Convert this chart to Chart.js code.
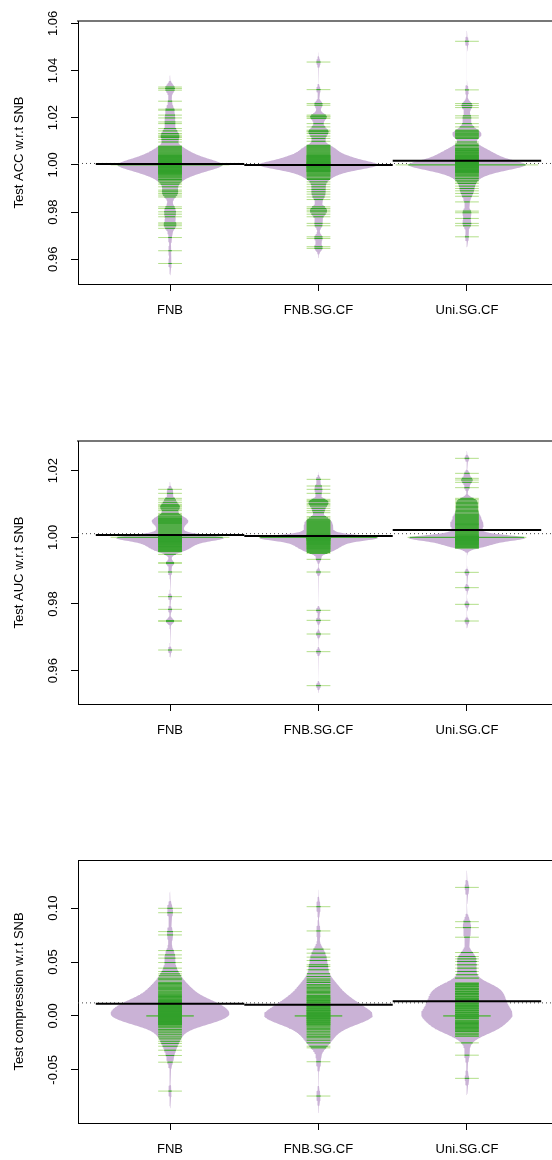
<!DOCTYPE html>
<html>
<head>
<meta charset="utf-8">
<script src="https://cdn.jsdelivr.net/npm/chart.js@4.4.0/dist/chart.umd.min.js"></script>
<style>
  body { margin: 0; width: 552px; height: 1160px; overflow: hidden; background: #fff; position: relative; }
  .panel { position: absolute; left: 0; width: 559px; height: 330px; }
</style>
</head>
<body>
<div class="panel" style="top:0px"><canvas id="accChart" width="559" height="330"></canvas></div>
<div class="panel" style="top:420px"><canvas id="aucChart" width="559" height="330"></canvas></div>
<div class="panel" style="top:839px"><canvas id="compChart" width="559" height="330"></canvas></div>
<script>
// bean categories
var methods = ["FNB", "FNB.SG.CF", "Uni.SG.CF"];
var xRange = [0.38, 3.62];

// ---- Test ACC w.r.t SNB (one observation per fold) ----
var accFNB = [1.0330, 1.0324, 1.0317, 1.0270, 1.0236, 1.0232, 1.0211, 1.0199, 1.0182, 1.0175, 1.0154, 1.0144, 1.0133, 1.0126, 1.0121, 1.0116, 1.0108, 1.0097,
  1.0079, 1.0075, 1.0071, 1.0067, 1.0063, 1.0059, 1.0055, 1.0051, 1.0047, 1.0043,
  1.0040, 1.0038, 1.0036, 1.0034, 1.0032, 1.0030, 1.0028, 1.0026, 1.0024, 1.0022, 1.0020, 1.0018, 1.0016,
  1.0014, 1.0012, 1.0011, 1.0009, 1.0008, 1.0006, 1.0005, 1.0003, 1.0002, 1.0001,
  1.0000, 1.0000, 1.0000, 1.0000, 1.0000,
  0.9999, 0.9998, 0.9997, 0.9995, 0.9994, 0.9992, 0.9991, 0.9989, 0.9988, 0.9986,
  0.9984, 0.9982, 0.9980, 0.9978, 0.9976, 0.9974, 0.9972, 0.9970, 0.9968, 0.9966, 0.9964, 0.9962, 0.9960,
  0.9956, 0.9952, 0.9948, 0.9944,
  0.9938, 0.9932, 0.9924, 0.9918, 0.9907, 0.9893, 0.9886, 0.9879, 0.9872, 0.9864, 0.9822, 0.9815, 0.9801, 0.9791, 0.9780, 0.9754, 0.9749, 0.9742, 0.9731, 0.9692, 0.9636, 0.9582];
var accFNBSGCF = [1.0436, 1.0319, 1.0260, 1.0253, 1.0211, 1.0206, 1.0203, 1.0197, 1.0175, 1.0161, 1.0147, 1.0143, 1.0140, 1.0133, 1.0122, 1.0112, 1.0100,
  1.0083, 1.0079, 1.0075, 1.0071, 1.0067, 1.0063, 1.0059, 1.0055, 1.0051, 1.0047, 1.0043,
  1.0040, 1.0038, 1.0036, 1.0034, 1.0032, 1.0030, 1.0028, 1.0026, 1.0024, 1.0022, 1.0020, 1.0018, 1.0016,
  1.0014, 1.0012, 1.0011, 1.0009, 1.0008, 1.0006, 1.0005, 1.0003, 1.0002, 1.0001,
  1.0000, 1.0000, 1.0000, 1.0000, 1.0000, 1.0000,
  0.9999, 0.9998, 0.9997, 0.9995, 0.9994, 0.9992, 0.9991, 0.9989, 0.9988, 0.9986,
  0.9984, 0.9982, 0.9980, 0.9978, 0.9976, 0.9974, 0.9972, 0.9970,
  0.9966, 0.9962, 0.9958, 0.9954,
  0.9949, 0.9943, 0.9938, 0.9928, 0.9918, 0.9907, 0.9896, 0.9886, 0.9876, 0.9864, 0.9853, 0.9822, 0.9815, 0.9808, 0.9801, 0.9791, 0.9780, 0.9752, 0.9742, 0.9695, 0.9688, 0.9653, 0.9646];
var accUniSGCF = [1.0524, 1.0318, 1.0260, 1.0252, 1.0243, 1.0208, 1.0199, 1.0175, 1.0161, 1.0147, 1.0143, 1.0139, 1.0134, 1.0130, 1.0126, 1.0122, 1.0117, 1.0112, 1.0097, 1.0088, 1.0082, 1.0076,
  1.0070, 1.0067, 1.0064, 1.0061, 1.0058, 1.0055, 1.0052, 1.0049, 1.0046, 1.0043,
  1.0040, 1.0038, 1.0036, 1.0034, 1.0032, 1.0030, 1.0028, 1.0026, 1.0024, 1.0022, 1.0020, 1.0018, 1.0016,
  1.0014, 1.0012, 1.0011, 1.0009, 1.0008, 1.0006, 1.0005, 1.0003, 1.0002, 1.0001,
  1.0000, 1.0000, 1.0000, 1.0000, 1.0000, 1.0000,
  0.9999, 0.9998, 0.9997, 0.9995, 0.9994, 0.9992, 0.9991, 0.9989, 0.9988, 0.9986,
  0.9984, 0.9982, 0.9980, 0.9978, 0.9976, 0.9974, 0.9972, 0.9970, 0.9968, 0.9966,
  0.9962, 0.9958, 0.9954,
  0.9949, 0.9942, 0.9935, 0.9928, 0.9921, 0.9910, 0.9900, 0.9890, 0.9879, 0.9867, 0.9843, 0.9804, 0.9797, 0.9773, 0.9752, 0.9742, 0.9695];
var accBandwidth = [0.0017, 0.0014, 0.0015];
var accMeans = [1.0004, 1.0000, 1.0017];
var accOverall = 1.0006;
var accRange = [0.9495, 1.061];
var accTicks = [0.96, 0.98, 1.00, 1.02, 1.04, 1.06];

// ---- Test AUC w.r.t SNB ----
var aucFNB = [1.0144, 1.0132, 1.0117, 1.0112, 1.0105, 1.0099, 1.0095, 1.0092, 1.0088, 1.0085, 1.0080,
  1.0072, 1.0068, 1.0064, 1.0061, 1.0058, 1.0056, 1.0054, 1.0052, 1.0050, 1.0048, 1.0046, 1.0044, 1.0042, 1.0040, 1.0037, 1.0034, 1.0031, 1.0028, 1.0025, 1.0022, 1.0019, 1.0016, 1.0013, 1.0010, 1.0008, 1.0006, 1.0004,
  1.0003, 1.0002, 1.00015, 1.0001, 1.00005,
  1.0000, 1.0000, 1.0000, 1.0000, 1.0000,
  0.99995, 0.9999, 0.99985, 0.9998, 0.99975, 0.9997, 0.99965, 0.9996, 0.9995, 0.9994, 0.9993, 0.9992, 0.9991, 0.9990,
  0.99888, 0.99876, 0.99864, 0.99852, 0.9984, 0.99825, 0.9981, 0.99795, 0.9978, 0.99762, 0.99744, 0.99726, 0.99708, 0.9969,
  0.9967, 0.9965, 0.9963, 0.9961, 0.9959, 0.9957,
  0.9949, 0.9924, 0.9922, 0.9896, 0.9822, 0.9784, 0.9750, 0.9748, 0.9662];
var aucFNBSGCF = [1.0174, 1.0154, 1.0144, 1.0132, 1.0114, 1.0110, 1.0107, 1.0102, 1.0098, 1.0094, 1.0087, 1.0080, 1.0074,
  1.0062, 1.0058, 1.0054, 1.0050, 1.0047, 1.0044, 1.0041, 1.0038, 1.0035, 1.0032, 1.0029, 1.0026, 1.0023, 1.0020, 1.0017, 1.0014, 1.0011, 1.0009, 1.0007, 1.0005,
  1.0003, 1.0002, 1.00015, 1.0001, 1.00005,
  1.0000, 1.0000, 1.0000, 1.0000, 1.0000,
  0.99995, 0.9999, 0.99985, 0.9998, 0.99975, 0.9997, 0.99965, 0.9996, 0.9995, 0.9994, 0.9993, 0.9992, 0.9991, 0.9990,
  0.99885, 0.9987, 0.99855, 0.9984, 0.99825, 0.9981, 0.99795, 0.9978, 0.9976, 0.9974, 0.9972, 0.9970, 0.9968, 0.9966, 0.9964, 0.9961, 0.9958, 0.9955, 0.9952,
  0.9934, 0.9896, 0.9781, 0.9751, 0.9710, 0.9657, 0.9555];
var aucUniSGCF = [1.0237, 1.0192, 1.0177, 1.0172, 1.0165, 1.0149, 1.0117, 1.0113, 1.0109, 1.0105, 1.0101, 1.0097, 1.0093, 1.0089, 1.0085, 1.0081, 1.0077, 1.0073, 1.0069, 1.0066, 1.0063, 1.0060, 1.0057, 1.0054, 1.0051, 1.0048, 1.0045,
  1.0042, 1.0040, 1.0038, 1.0036, 1.0033, 1.0030, 1.0027, 1.0024, 1.0021, 1.0018, 1.0015, 1.0012, 1.0009, 1.0007, 1.0005,
  1.0003, 1.0002, 1.00015, 1.0001, 1.00005,
  1.0000, 1.0000, 1.0000, 1.0000, 1.0000,
  0.99995, 0.9999, 0.99985, 0.9998, 0.99975, 0.9997, 0.99965, 0.9996, 0.9995, 0.9994, 0.9993, 0.9992, 0.9991, 0.9990,
  0.99885, 0.9987, 0.99855, 0.9984, 0.99825, 0.9981, 0.99795, 0.9978, 0.9976, 0.9974, 0.9972, 0.9970, 0.9968,
  0.9895, 0.9849, 0.9799, 0.9749];
var aucBandwidth = [0.00078, 0.00073, 0.00075];
var aucMeans = [1.0007, 1.0004, 1.0022];
var aucOverall = 1.0011;
var aucRange = [0.9500, 1.0289];
var aucTicks = [0.96, 0.98, 1.00, 1.02];

// ---- Test compression w.r.t SNB ----
var compFNB = [0.0998, 0.0957, 0.0782, 0.0751, 0.0606, 0.0566, 0.0536, 0.0495, 0.0443, 0.0412, 0.0390, 0.0372, 0.0350, 0.0335, 0.0312, 0.0300,
  0.0289, 0.0278, 0.0268, 0.0260, 0.0252, 0.0243, 0.0231, 0.0222, 0.0213, 0.0204, 0.0196, 0.0188, 0.0180, 0.0172, 0.0165, 0.0157,
  0.0150, 0.0146, 0.0142, 0.0138, 0.0134, 0.0130, 0.0126, 0.0122, 0.0118, 0.0114, 0.0110, 0.0106, 0.0102, 0.0098, 0.0094, 0.0090,
  0.0086, 0.0082, 0.0078, 0.0074, 0.0070, 0.0066, 0.0062, 0.0058, 0.0055, 0.0051, 0.0048, 0.0044, 0.0041, 0.0037, 0.0034, 0.0030,
  0.0027, 0.0023, 0.0020, 0.0016, 0.0013, 0.0009, 0.0006, 0.0003,
  0.0000, 0.0000,
  -0.0004, -0.0007, -0.0011, -0.0014, -0.0018, -0.0021, -0.0025, -0.0028, -0.0032, -0.0036, -0.0040, -0.0044, -0.0048, -0.0052,
  -0.0056, -0.0060, -0.0064, -0.0068, -0.0072, -0.0076, -0.0080,
  -0.0085, -0.0096, -0.0110, -0.0127, -0.0140, -0.0157, -0.0175, -0.0195, -0.0213, -0.0235, -0.0255, -0.0281, -0.0318, -0.0367, -0.0429, -0.0697];
var compFNBSGCF = [0.1013, 0.0788, 0.0619, 0.0582, 0.0545, 0.0514, 0.0474, 0.0458, 0.0428, 0.0391, 0.0365, 0.0342, 0.0325, 0.0310, 0.0290, 0.0278,
  0.0265, 0.0252, 0.0240, 0.0228, 0.0218, 0.0205, 0.0190, 0.0181, 0.0172, 0.0165, 0.0158, 0.0150, 0.0143, 0.0135, 0.0125, 0.0120,
  0.0110, 0.0105, 0.0100, 0.0090, 0.0085, 0.0080, 0.0071, 0.0066, 0.0062, 0.0054, 0.0050, 0.0046, 0.0038, 0.0034, 0.0030, 0.0022,
  0.0018, 0.0014, 0.0007, 0.0003,
  0.0000, 0.0000,
  -0.0006, -0.0010, -0.0013, -0.0020, -0.0024, -0.0028, -0.0036, -0.0040, -0.0045, -0.0054, -0.0058, -0.0063, -0.0072, -0.0077,
  -0.0082, -0.0092, -0.0103, -0.0115, -0.0128, -0.0142, -0.0158, -0.0175, -0.0189,
  -0.0203, -0.0225, -0.0250, -0.0281, -0.0296, -0.0425, -0.0743];
var compUniSGCF = [0.1192, 0.0874, 0.0819, 0.0730, 0.0588, 0.0551, 0.0529, 0.0505, 0.0474, 0.0443, 0.0412, 0.0382, 0.0351,
  0.0305, 0.0299, 0.0292, 0.0280, 0.0274, 0.0268, 0.0256, 0.0250, 0.0244, 0.0232, 0.0226, 0.0220, 0.0208, 0.0202, 0.0196, 0.0185,
  0.0179, 0.0174, 0.0163, 0.0157, 0.0152, 0.0141, 0.0135, 0.0130, 0.0119, 0.0113, 0.0108, 0.0097, 0.0091, 0.0086, 0.0076, 0.0071,
  0.0066, 0.0056, 0.0051, 0.0046, 0.0036, 0.0031, 0.0026, 0.0016, 0.0011, 0.0007,
  0.0000, 0.0000,
  -0.0004, -0.0008, -0.0017, -0.0021, -0.0026,
  -0.0040, -0.0048, -0.0055, -0.0062, -0.0070, -0.0078, -0.0085, -0.0092, -0.0100, -0.0108, -0.0115, -0.0122, -0.0130, -0.0138,
  -0.0145, -0.0160, -0.0175, -0.0188, -0.0250, -0.0364, -0.0579];
var compBandwidth = [0.0054, 0.0053, 0.0052];
var compMeans = [0.0114, 0.0104, 0.0135];
var compOverall = 0.0121;
var compRange = [-0.0993, 0.1446];
var compTicks = [-0.05, 0.00, 0.05, 0.10];

// beanplot colours: bean area, lines inside the bean, lines outside the bean
var beanColor = '#CAB2D6';
var innerLineColor = '#33A02C';
var outerLineColor = '#B2DF8A';

Chart.defaults.font.family = '"Liberation Sans", Arial, Helvetica, sans-serif';
Chart.defaults.font.size = 13;
Chart.defaults.color = '#000';

// gaussian kernel density, like R's density()
function kde(values, bw, y) {
  var s = 0;
  for (var i = 0; i < values.length; i++) {
    var z = (y - values[i]) / bw;
    s += Math.exp(-0.5 * z * z);
  }
  return s / (values.length * bw * Math.sqrt(2 * Math.PI));
}

function beanShape(values, bw) {
  var lo = Math.min.apply(null, values) - 3 * bw;
  var hi = Math.max.apply(null, values) + 3 * bw;
  var pts = [];
  for (var k = 0; k <= 500; k++) {
    var y = lo + (hi - lo) * k / 500;
    pts.push({ y: y, d: kde(values, bw, y) });
  }
  return pts;
}

// distinct values with their number of ties
function tally(values) {
  var counts = {};
  values.forEach(function (v) {
    var key = v.toFixed(6);
    counts[key] = (counts[key] || 0) + 1;
  });
  return Object.keys(counts).map(function (k) { return { v: +k, n: counts[k] }; });
}

function unitPx(chart, u) {
  var x = chart.scales.x;
  return x.getPixelForValue(u) - x.getPixelForValue(0);
}

function makePanel(id, title, series, bws, means, overall, range, ticks, labelPad, topBorder) {
  var shapes = series.map(function (vals, i) { return beanShape(vals, bws[i]); });
  var maxD = 0;
  shapes.forEach(function (s) { s.forEach(function (p) { if (p.d > maxD) maxD = p.d; }); });
  var k = 0.4 / maxD; // widest bean gets half-width 0.4

  var datasets = [];
  // overall average (dotted)
  datasets.push({
    data: [{ x: xRange[0], y: overall }, { x: xRange[1], y: overall }],
    borderColor: '#444', borderWidth: 1, borderDash: [1, 3], pointRadius: 0, order: 6
  });
  // bean densities
  shapes.forEach(function (shape, i) {
    var c = i + 1;
    datasets.push({
      data: shape.map(function (p) { return { x: c + p.d * k, y: p.y }; }),
      borderWidth: 0, pointRadius: 0, fill: false, order: 5
    });
    datasets.push({
      data: shape.map(function (p) { return { x: c - p.d * k, y: p.y }; }),
      borderWidth: 0, pointRadius: 0, fill: '-1', backgroundColor: beanColor, order: 5
    });
  });
  // bean lines: light green full length, dark green where they lie inside the bean
  series.forEach(function (vals, i) {
    var pts = tally(vals).map(function (t) {
      return { x: i + 1, y: t.v, n: t.n, w: kde(vals, bws[i], t.v) * k };
    });
    datasets.push({
      data: pts, showLine: false, pointStyle: 'line',
      pointRadius: function (ctx) { return ctx.raw.n * unitPx(ctx.chart, 0.08); },
      pointBorderColor: outerLineColor, pointBorderWidth: 1, order: 4
    });
    datasets.push({
      data: pts, showLine: false, pointStyle: 'line',
      pointRadius: function (ctx) { return Math.min(ctx.raw.n * 0.08, ctx.raw.w) * unitPx(ctx.chart, 1); },
      pointBorderColor: innerLineColor, pointBorderWidth: 1, order: 3
    });
  });
  // bean averages
  datasets.push({
    data: means.map(function (m, i) { return { x: i + 1, y: m }; }),
    showLine: false, pointStyle: 'line',
    pointRadius: function (ctx) { return unitPx(ctx.chart, 0.5); },
    pointBorderColor: '#000', pointBorderWidth: 2, order: 1
  });

  new Chart(document.getElementById(id), {
    type: 'line',
    data: { datasets: datasets },
    options: {
      responsive: false,
      animation: false,
      events: [],
      indexAxis: 'y',
      layout: { padding: 0 },
      plugins: { legend: { display: false }, tooltip: { enabled: false } },
      scales: {
        x: {
          type: 'linear', position: 'bottom', min: xRange[0], max: xRange[1],
          afterBuildTicks: function (s) { s.ticks = [1, 2, 3].map(function (v) { return { value: v }; }); },
          afterFit: function (s) { s.height = 46; },
          ticks: { padding: 12, callback: function (v, i) { return methods[i]; } },
          grid: { drawOnChartArea: false, tickLength: 7, color: '#000' },
          border: { color: '#000' }
        },
        x2: {
          type: 'linear', position: 'top', min: xRange[0], max: xRange[1],
          afterFit: function (s) { s.height = 21; },
          ticks: { display: false },
          grid: { display: false, drawTicks: false },
          border: { display: true, color: topBorder[0], width: topBorder[1] }
        },
        y: {
          type: 'linear', min: range[0], max: range[1],
          afterBuildTicks: function (s) { s.ticks = ticks.map(function (v) { return { value: v }; }); },
          afterFit: function (s) { s.width = 78; },
          ticks: {
            minRotation: 90, maxRotation: 90, crossAlign: 'center', padding: labelPad,
            callback: function (v) { return v.toFixed(2); }
          },
          grid: { drawOnChartArea: false, tickLength: 7, color: '#000' },
          border: { color: '#000' },
          title: { display: true, text: title, padding: { top: 12, bottom: 0 } }
        }
      }
    }
  });
}

makePanel('accChart', 'Test ACC w.r.t SNB', [accFNB, accFNBSGCF, accUniSGCF], accBandwidth,
  accMeans, accOverall, accRange, accTicks, 5.3, ['#777', 2]);
makePanel('aucChart', 'Test AUC w.r.t SNB', [aucFNB, aucFNBSGCF, aucUniSGCF], aucBandwidth,
  aucMeans, aucOverall, aucRange, aucTicks, 5.3, ['#777', 2]);
makePanel('compChart', 'Test compression w.r.t SNB', [compFNB, compFNBSGCF, compUniSGCF], compBandwidth,
  compMeans, compOverall, compRange, compTicks, 3.2, ['#000', 1]);
</script>
</body>
</html>
